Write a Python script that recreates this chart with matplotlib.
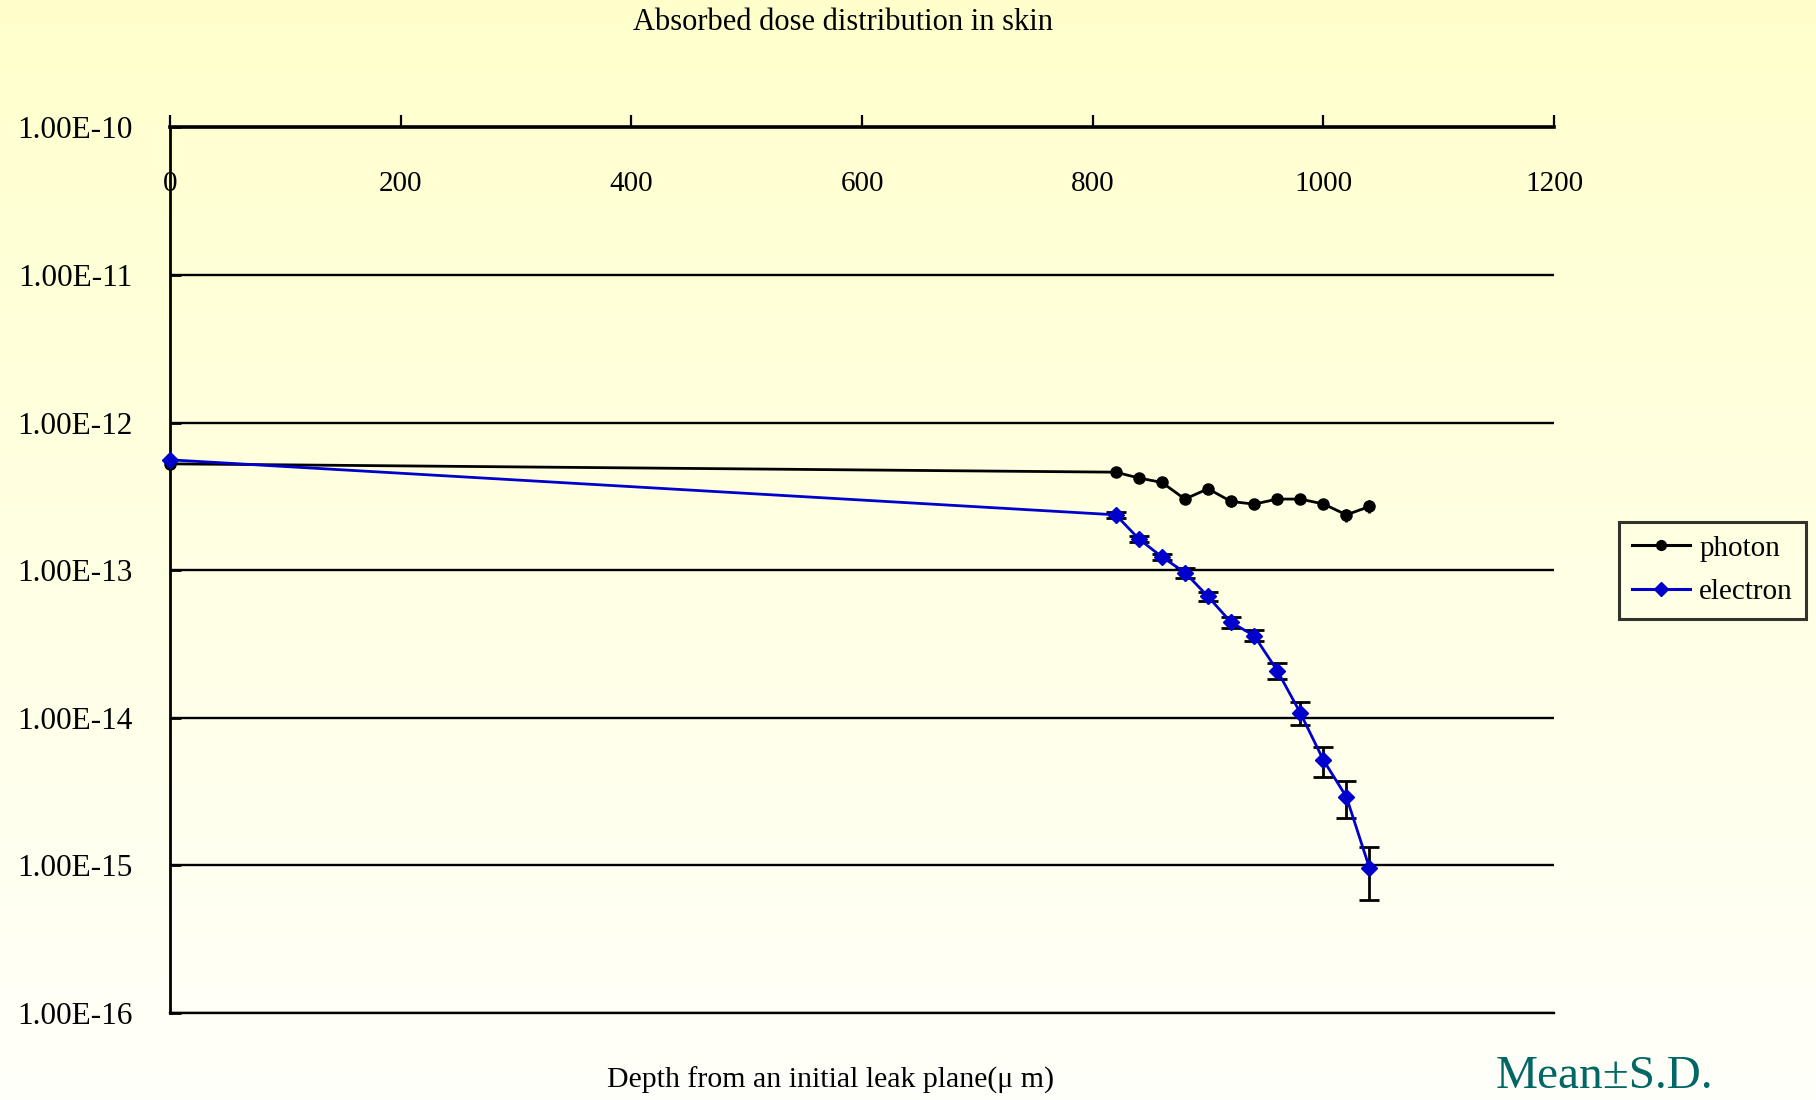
import numpy as np
import matplotlib
matplotlib.use("Agg")
import matplotlib.pyplot as plt
from matplotlib.ticker import FixedLocator, FuncFormatter, NullLocator
from matplotlib.colors import LinearSegmentedColormap

# ---------------- data ----------------
depth = [0, 820, 840, 860, 880, 900, 920, 940, 960, 980, 1000, 1020, 1040]

photon_mean = [5.25e-13, 4.61e-13, 4.21e-13, 3.93e-13, 3.03e-13, 3.56e-13, 2.92e-13,
               2.80e-13, 3.03e-13, 3.03e-13, 2.81e-13, 2.37e-13, 2.70e-13]
photon_sd = [0.0, 1.4e-14, 1.7e-14, 2.8e-14, 1.2e-14, 1.4e-14, 2.3e-14,
             2.0e-14, 1.8e-14, 2.1e-14, 2.0e-14, 2.4e-14, 2.7e-14]

electron_mean = [5.59e-13, 2.37e-13, 1.63e-13, 1.23e-13, 9.64e-14, 6.63e-14, 4.43e-14,
                 3.60e-14, 2.09e-14, 1.08e-14, 5.18e-15, 2.91e-15, 9.61e-16]
electron_sd = [0.0, 1.2e-14, 7.8e-15, 5.9e-15, 7.3e-15, 4.5e-15, 3.9e-15,
               3.1e-15, 2.7e-15, 1.9e-15, 1.2e-15, 8.0e-16, 3.8e-16]

x_ticks = [0, 200, 400, 600, 800, 1000, 1200]
y_ticks = [1e-10, 1e-11, 1e-12, 1e-13, 1e-14, 1e-15, 1e-16]

title = "Absorbed dose distribution in skin"
xlabel = "Depth from an initial leak plane(\u03bc m)"
note = "Mean\u00b1S.D."
series_names = ["photon", "electron"]

# ---------------- figure ----------------
FONT = ["Liberation Serif", "DejaVu Serif"]
plt.rcParams["font.family"] = FONT

fig = plt.figure(figsize=(18.16, 11.0), dpi=100)

# gradient background
bg = fig.add_axes([0, 0, 1, 1], zorder=-10)
cmap = LinearSegmentedColormap.from_list("bg", ["#FFFFCC", "#FFFFFA"])
grad = np.linspace(0, 1, 256).reshape(-1, 1)
bg.imshow(grad, aspect="auto", cmap=cmap, extent=[0, 1, 0, 1], origin="upper")
bg.set_axis_off()

L, R = 170 / 1816, 1554 / 1816
B, T = 1 - 1013 / 1100, 1 - 127.3 / 1100
ax = fig.add_axes([L, B, R - L, T - B])
ax.set_facecolor("none")
ax.set_yscale("log")
ax.set_xlim(0, 1200)
ax.set_ylim(1e-16, 1e-10)

# grid lines
ax.yaxis.set_major_locator(FixedLocator(y_ticks))
ax.yaxis.set_minor_locator(NullLocator())
ax.yaxis.set_major_formatter(FuncFormatter(lambda v, p: f"{v:.2E}"))
ax.grid(True, axis="y", color="black", linewidth=1.7)
ax.grid(False, axis="x")
ax.set_axisbelow(True)

# x axis on top, labels inside the plot
ax.xaxis.set_major_locator(FixedLocator(x_ticks))
ax.xaxis.set_major_formatter(FuncFormatter(lambda v, p: f"{int(v)}"))
ax.tick_params(axis="x", top=True, bottom=False, labeltop=True, labelbottom=False,
               direction="out", length=9, width=1.6, pad=-59, labelsize=21)
ax.tick_params(axis="y", left=True, right=False, direction="in", length=8, width=2,
               pad=27, labelsize=22.5)

ax.spines["right"].set_visible(False)
ax.spines["top"].set_linewidth(2.6)
ax.spines["left"].set_linewidth(2.0)
ax.spines["bottom"].set_linewidth(1.7)

# data
ax.errorbar(depth, photon_mean, yerr=photon_sd, color="black", lw=2.0,
            marker="o", markersize=8, capsize=0, elinewidth=2.0,
            errorevery=(1, 1), label=series_names[0], clip_on=False, zorder=3)
ax.errorbar(depth, electron_mean, yerr=electron_sd, color="#0000CC", lw=2.0,
            marker="D", markersize=8.5, capsize=7.5, elinewidth=2.0, capthick=2.0,
            ecolor="black", errorevery=(1, 1), label=series_names[1],
            clip_on=False, zorder=4)

handles, labels = ax.get_legend_handles_labels()
handles = [h[0] for h in handles]
leg = fig.legend(handles, labels, loc="upper left",
                 bbox_to_anchor=(1619 / 1816, 1 - 522 / 1100),
                 fontsize=21, frameon=True, fancybox=False, handlelength=2.0,
                 borderpad=0.45, labelspacing=0.6, handletextpad=0.3,
                 borderaxespad=0)
leg.get_frame().set_edgecolor("black")
leg.get_frame().set_linewidth(2.2)
leg.get_frame().set_facecolor("none")
for lh in leg.get_lines():
    lh.set_markersize(7)
    lh.set_linewidth(2.2)

fig.text(843 / 1816, 1 - 22 / 1100, title, ha="center", va="center", fontsize=22)
fig.text(831 / 1816, 1 - 1080 / 1100, xlabel, ha="center", va="center", fontsize=21.5)
fig.text(1604 / 1816, 1 - 1088 / 1100, note, ha="center", va="baseline", fontsize=34,
         color="#006666")

fig.savefig("out.png", dpi=100)
